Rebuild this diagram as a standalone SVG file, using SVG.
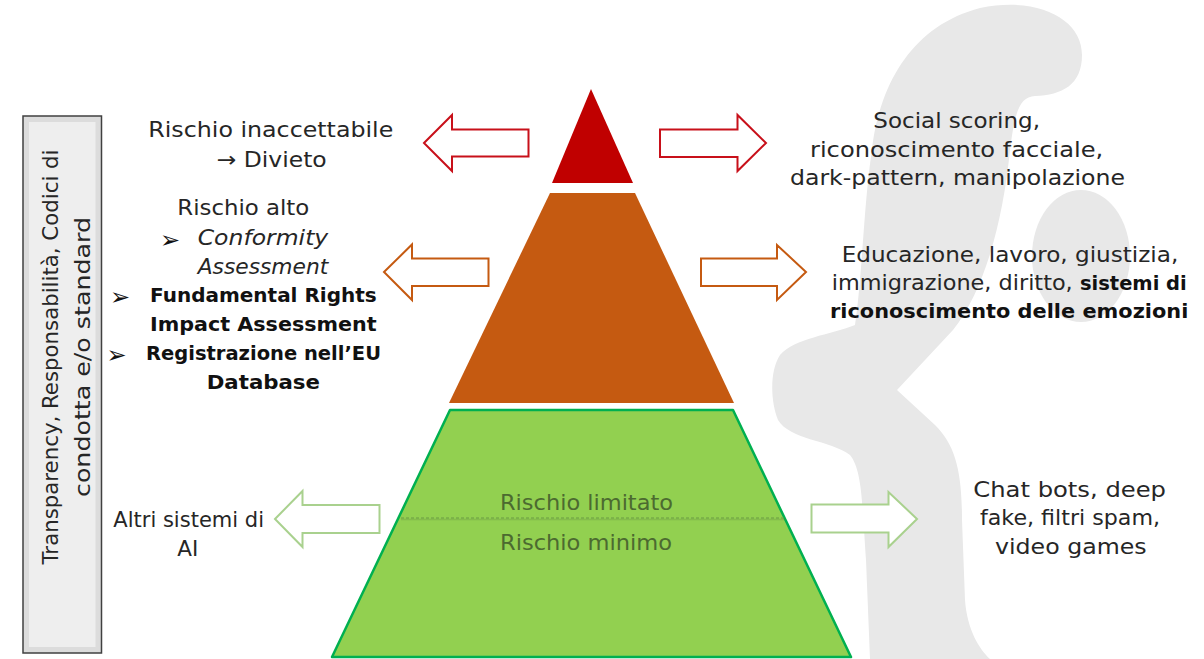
<svg xmlns="http://www.w3.org/2000/svg" width="1204" height="659" viewBox="0 0 1204 659">
<style>
.t{font-family:"DejaVu Sans","Liberation Sans",sans-serif;font-size:21px;fill:#262626}
.b{font-weight:bold;font-size:20px;fill:#111}
.i{font-style:italic}
.bl{font-family:"DejaVu Sans",sans-serif;font-size:24px;fill:#111}
.g{fill:#4c6a30;font-size:21px}
.arr{fill:#fff;stroke-width:2;stroke-linejoin:miter}
.red{stroke:#C8101A}
.org{stroke:#C55A11}
.grn{stroke:#A9D18E}
</style>
<rect x="0" y="0" width="1204" height="659" fill="#fff"/>
<g id="watermark" fill="#e8e8e8">
<path d="M870 659 L866 560 C862 500 862 470 850 455 C830 440 790 440 778 420 C770 400 770 370 780 355 C795 338 830 335 855 325 C862 280 864 200 872 150 C880 80 915 25 980 8 C1040 -4 1082 20 1082 55 C1082 85 1062 95 1035 96 C1020 97 1015 110 1010 150 C1003 220 985 290 953 330 L897 390 L935 425 C955 445 962 470 962 520 L965 600 C967 630 980 650 990 659 Z"/>
<ellipse cx="1081" cy="256" rx="49" ry="66"/>
</g>
<g id="side-box">
<rect x="23" y="116" width="78.5" height="537" fill="#dcdcdc" stroke="#404040" stroke-width="1.5"/>
<rect x="29" y="122" width="66.5" height="525" fill="#eeeeee"/>
<g transform="translate(58,357) rotate(-90)">
<text class="t" x="-207.5" y="0" textLength="415" lengthAdjust="spacingAndGlyphs">Transparency, Responsabilità, Codici di</text>
<text class="t" x="-140" y="32" textLength="280" lengthAdjust="spacingAndGlyphs">condotta e/o standard</text>
</g>
</g>
<g id="level-unacceptable">
<polygon points="591,89 633,183 552,183" fill="#C00000"/>
</g>
<g id="level-high">
<polygon points="550,193 635,193 734,403 449,403" fill="#C55A11"/>
</g>
<g id="level-limited-minimal">
<polygon points="450,410 733,410 851,657 332,657" fill="#92D050" stroke="#00B050" stroke-width="2.5" stroke-linejoin="round"/>
<line x1="401" y1="519.5" x2="786" y2="519.5" stroke="#5a7a3a" stroke-opacity="0.25" stroke-width="1.5"/>
<line x1="401" y1="518" x2="786" y2="518" stroke="#6a9a44" stroke-width="1" stroke-dasharray="3,2"/>
<text class="t g" x="500" y="510" textLength="173" lengthAdjust="spacingAndGlyphs">Rischio limitato</text>
<text class="t g" x="500" y="550" textLength="172" lengthAdjust="spacingAndGlyphs">Rischio minimo</text>
</g>
<g id="connectors">
<polygon class="arr red" points="424,143 452,115 452,129.5 528.5,129.5 528.5,156.5 452,156.5 452,171"/>
<polygon class="arr red" points="660,129.5 737.5,129.5 737.5,115 766,143 737.5,171 737.5,157 660,157"/>
<polygon class="arr org" points="384,272 412,244.5 412,258.5 488.5,258.5 488.5,286 412,286 412,300"/>
<polygon class="arr org" points="701,258.5 777,258.5 777,245 806,272 777,300 777,286 701,286"/>
<polygon class="arr grn" points="275,519 302.5,491 302.5,505 379.5,505 379.5,533 302.5,533 302.5,547"/>
<polygon class="arr grn" points="811.5,504.5 888.5,504.5 888.5,492 917,519 888.5,547 888.5,532.5 811.5,532.5"/>
</g>
<g id="label-unacceptable">
<text class="t" x="148.3" y="137" textLength="245" lengthAdjust="spacingAndGlyphs">Rischio inaccettabile</text>
<text class="t" x="216.7" y="166.5" textLength="110" lengthAdjust="spacingAndGlyphs">→ Divieto</text>
</g>
<g id="label-high">
<text class="t" x="177.3" y="215" textLength="132" lengthAdjust="spacingAndGlyphs">Rischio alto</text>
<text class="bl" x="160" y="248">➢</text>
<text class="t i" x="197.7" y="245" textLength="130.6" lengthAdjust="spacingAndGlyphs">Conformity</text>
<text class="t i" x="197.7" y="273.5" textLength="130.6" lengthAdjust="spacingAndGlyphs">Assessment</text>
<text class="bl" x="110" y="305">➢</text>
<text class="t b" x="150" y="302.3" textLength="226.7" lengthAdjust="spacingAndGlyphs">Fundamental Rights</text>
<text class="t b" x="150" y="331" textLength="226.7" lengthAdjust="spacingAndGlyphs">Impact Assessment</text>
<text class="bl" x="106.5" y="363">➢</text>
<text class="t b" x="146" y="360" textLength="235" lengthAdjust="spacingAndGlyphs">Registrazione nell’EU</text>
<text class="t b" x="206.7" y="388.5" textLength="113.3" lengthAdjust="spacingAndGlyphs">Database</text>
</g>
<g id="label-other">
<text class="t" x="113.3" y="526.7" textLength="150.7" lengthAdjust="spacingAndGlyphs">Altri sistemi di</text>
<text class="t" x="177.3" y="556" textLength="21" lengthAdjust="spacingAndGlyphs">AI</text>
</g>
<g id="examples-unacceptable">
<text class="t" x="873.3" y="128.3" textLength="166.7" lengthAdjust="spacingAndGlyphs">Social scoring,</text>
<text class="t" x="810" y="156.7" textLength="293.3" lengthAdjust="spacingAndGlyphs">riconoscimento facciale,</text>
<text class="t" x="790" y="185" textLength="335" lengthAdjust="spacingAndGlyphs">dark-pattern, manipolazione</text>
</g>
<g id="examples-high">
<text class="t" x="841.7" y="261.7" textLength="336.6" lengthAdjust="spacingAndGlyphs">Educazione, lavoro, giustizia,</text>
<text class="t" x="831.7" y="290" textLength="241" lengthAdjust="spacingAndGlyphs">immigrazione, diritto,</text>
<text class="t b" x="1080" y="290" textLength="106.7" lengthAdjust="spacingAndGlyphs">sistemi di</text>
<text class="t b" x="830" y="318.3" textLength="358.3" lengthAdjust="spacingAndGlyphs">riconoscimento delle emozioni</text>
</g>
<g id="examples-limited">
<text class="t" x="973.3" y="497" textLength="192.7" lengthAdjust="spacingAndGlyphs">Chat bots, deep</text>
<text class="t" x="980" y="525" textLength="180" lengthAdjust="spacingAndGlyphs">fake, filtri spam,</text>
<text class="t" x="995" y="553.5" textLength="151.7" lengthAdjust="spacingAndGlyphs">video games</text>
</g>
</svg>
